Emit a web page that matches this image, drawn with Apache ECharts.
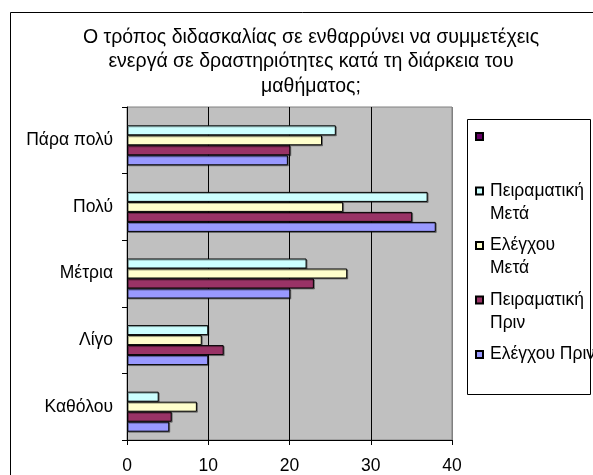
<!DOCTYPE html>
<html>
<head>
<meta charset="utf-8">
<script src="https://cdn.jsdelivr.net/npm/echarts@6/dist/echarts.min.js"></script>
<style>
  html, body { margin: 0; padding: 0; background: #fff; }
  #chart { width: 593px; height: 475px; }
</style>
</head>
<body>
<div id="chart"></div>
<script>
// κατηγορίες, από κάτω προς τα πάνω
const categories = ['Καθόλου', 'Λίγο', 'Μέτρια', 'Πολύ', 'Πάρα πολύ']
const xTicks = [0, 10, 20, 30, 40]

const seriesNames = [' ', 'Πειραματική Μετά', 'Ελέγχου Μετά', 'Πειραματική Πριν', 'Ελέγχου Πριν']
// κενή πρώτη γραμμή ώστε το εικονίδιο να στέκεται δίπλα στην πρώτη γραμμή του κειμένου
const legendLabels = ['\n \n ', '\nΠειραματική\nΜετά', '\nΕλέγχου\nΜετά', '\nΠειραματική\nΠριν', '\nΕλέγχου Πριν\n ']
const seriesColors = ['#660066', '#CCFFFF', '#FFFFCC', '#993366', '#9999FF']

const blankValues = [null, null, null, null, null]
const peirMeta = [3.9, 10.0, 22.1, 37.0, 25.7]
const elegMeta = [8.6, 9.2, 27.1, 26.6, 24.0]
const peirPrin = [5.5, 11.9, 23.0, 35.1, 20.1]
const elegPrin = [5.2, 10.0, 20.1, 38.0, 19.8]
const seriesValues = [blankValues, peirMeta, elegMeta, peirPrin, elegPrin]

const FONT = '"Liberation Sans", Arial, sans-serif'

let myChart = echarts.init(document.getElementById('chart'), null, { renderer: 'canvas' })

let series = seriesNames.map((name, i) => {
    return {
        name: name,
        type: 'bar',
        data: seriesValues[i],
        barWidth: 10,
        barGap: '0%',
        itemStyle: {
            color: seriesColors[i],
            borderColor: '#000',
            borderWidth: 1,
            shadowColor: 'rgba(0,0,0,0.35)',
            shadowOffsetX: 1,
            shadowOffsetY: 1
        },
        silent: true
    }
})

let option = {
    animation: false,
    backgroundColor: '#fff',
    textStyle: { fontFamily: FONT },
    title: {
        text: 'Ο τρόπος διδασκαλίας σε ενθαρρύνει να συμμετέχεις\nενεργά σε δραστηριότητες κατά τη διάρκεια του\nμαθήματος;',
        left: 311,
        top: 25,
        textAlign: 'center',
        padding: 0,
        textStyle: {
            fontFamily: FONT,
            fontSize: 19.5,
            fontWeight: 'normal',
            color: '#000',
            lineHeight: 24.5
        }
    },
    graphic: [
        {
            type: 'rect',
            z: -10,
            shape: { x: 10.5, y: 12.5, width: 620, height: 500 },
            style: { fill: 'none', stroke: '#000', lineWidth: 1 }
        },
        {
            type: 'rect',
            z: 1,
            shape: { x: 467.5, y: 119.5, width: 123, height: 275 },
            style: { fill: '#fff', stroke: '#000', lineWidth: 1 }
        }
    ],
    legend: {
        data: seriesNames,
        orient: 'vertical',
        left: 475,
        top: 102,
        padding: 0,
        itemGap: -14.5,
        itemWidth: 7,
        itemHeight: 7,
        icon: 'rect',
        selectedMode: false,
        z: 5,
        formatter: name => legendLabels[seriesNames.indexOf(name)],
        textStyle: {
            fontFamily: FONT,
            fontSize: 17.5,
            color: '#000',
            lineHeight: 23,
            padding: [0, 0, 0, 2]
        }
    },
    grid: {
        left: 127,
        top: 107,
        width: 325,
        height: 333.5,
        show: true,
        backgroundColor: '#C0C0C0',
        borderColor: '#808080',
        borderWidth: 1
    },
    xAxis: {
        type: 'value',
        min: xTicks[0],
        max: xTicks[xTicks.length - 1],
        interval: 10,
        axisLine: { show: true, lineStyle: { color: '#000', width: 1 } },
        axisTick: { show: true, length: 5, lineStyle: { color: '#000' } },
        axisLabel: { fontSize: 17.5, color: '#000', margin: 17, fontFamily: FONT },
        splitLine: { show: true, lineStyle: { color: ['#000', '#000', '#000', '#000', '#808080'], width: 1 } }
    },
    yAxis: {
        type: 'category',
        data: categories,
        axisLine: { show: true, lineStyle: { color: '#000', width: 1 } },
        axisTick: { show: true, length: 5, lineStyle: { color: '#000' } },
        axisLabel: { fontSize: 17.5, color: '#000', margin: 14, fontFamily: FONT },
        splitLine: { show: false }
    },
    series: series
}

myChart.setOption(option)
</script>
</body>
</html>
